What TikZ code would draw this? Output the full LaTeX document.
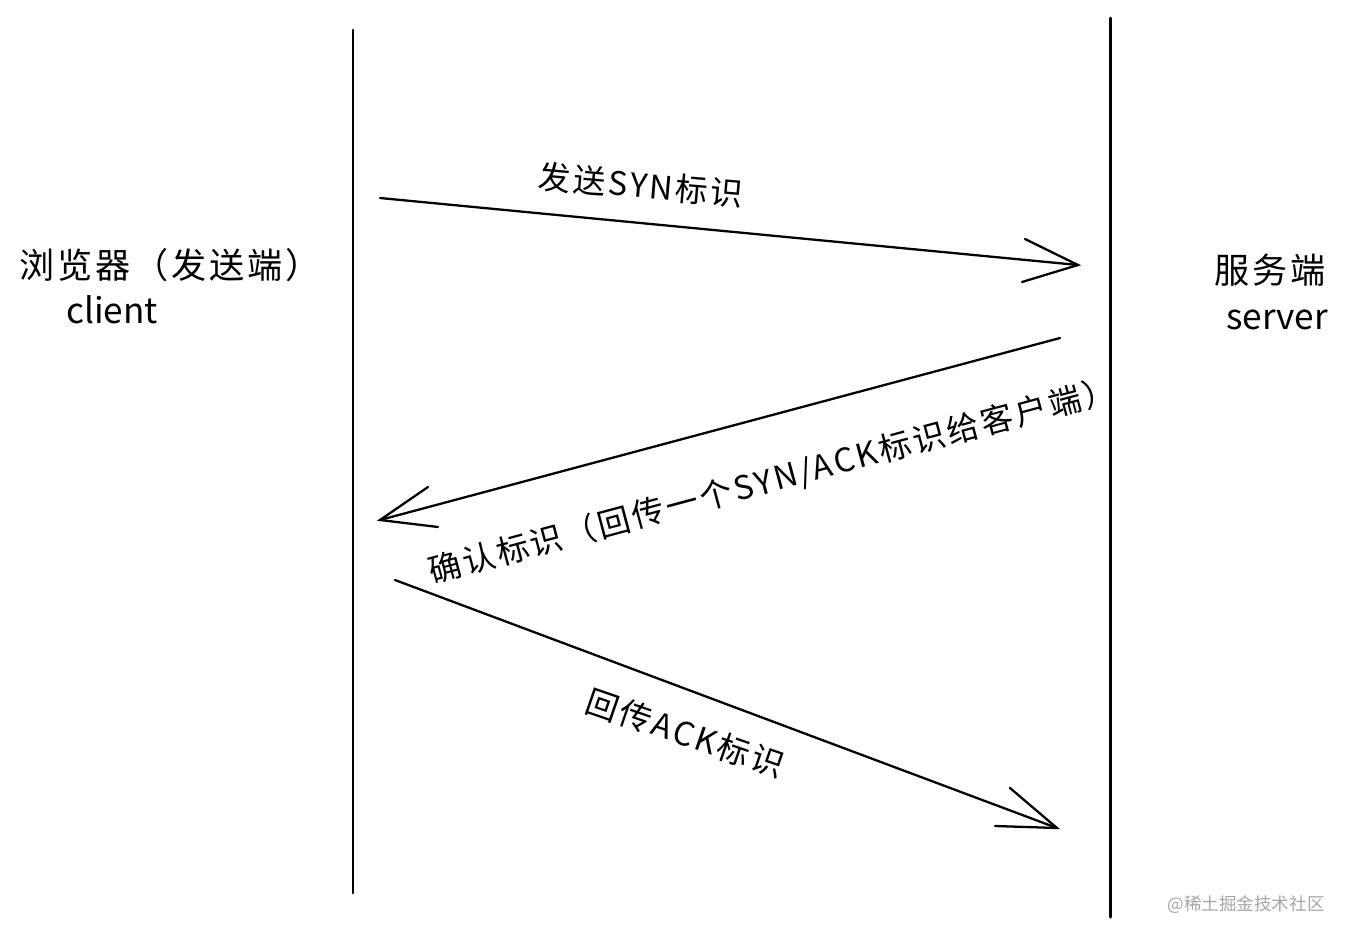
\documentclass[tikz,border=0pt]{standalone}
\usepackage{fontspec}
\setmainfont{Noto Sans CJK SC}
\newfontfamily\handfont[LetterSpace=8]{Noto Sans CJK SC}
\begin{document}
\begin{tikzpicture}[x=0.02cm,y=-0.02cm,
  lifeline/.style={line width=1.7pt,line cap=round},
  msg/.style={line width=1.3pt,line cap=round},
  barb/.style={line width=1.3pt,line cap=round},
  lbl/.style={font=\handfont\fontsize{20}{23}\selectfont,inner sep=0pt},
  lat/.style={font=\fontsize{20}{23}\selectfont,inner sep=0pt},
  mlbl/.style={font=\handfont\fontsize{18.5}{21}\selectfont,inner sep=0pt},
  wm/.style={font=\fontsize{10}{12}\selectfont,text=black!35,inner sep=0pt}]
\useasboundingbox (0,0) rectangle (1352,940);
% lifelines
\coordinate (cTop) at (353,30);
\coordinate (cBot) at (353,893);
\coordinate (sTop) at (1110,18);
\coordinate (sBot) at (1110,917);
\draw[lifeline] (cTop) -- (cBot);
\draw[lifeline] (sTop) -- (sBot);
% party labels
\node[lbl] (clientcn) at (170,265) {浏览器（发送端）};
\node[lat] (client) at (112,310) {client};
\node[lbl] (servercn) at (1270,270) {服务端};
\node[lat] (server) at (1277,320) {server};
% message 1
\coordinate (m1s) at (380,198);
\coordinate (m1e) at (1078,265);
\coordinate (m1a) at (1025,239);
\coordinate (m1b) at (1022,282);
\draw[msg] (m1s) -- (m1e);
\draw[barb] (m1a) -- (m1e) -- (m1b);
\node[mlbl,rotate=-5] (l1) at (641,185) {发送SYN标识};
% message 2
\coordinate (m2s) at (1060,338);
\coordinate (m2e) at (380,520);
\coordinate (m2a) at (428,487);
\coordinate (m2b) at (438,527);
\draw[msg] (m2s) -- (m2e);
\draw[barb] (m2a) -- (m2e) -- (m2b);
\node[mlbl,rotate=15] (l2) at (772,481) {确认标识（回传一个SYN/ACK标识给客户端）};
% message 3
\coordinate (m3s) at (395,580);
\coordinate (m3e) at (1057,828);
\coordinate (m3a) at (1010,788);
\coordinate (m3b) at (995,826);
\draw[msg] (m3s) -- (m3e);
\draw[barb] (m3a) -- (m3e) -- (m3b);
\node[mlbl,rotate=-19] (l3) at (685,733) {回传ACK标识};
% watermark
\node[wm] (wmk) at (1246,905) {@稀土掘金技术社区};
\end{tikzpicture}
\end{document}
